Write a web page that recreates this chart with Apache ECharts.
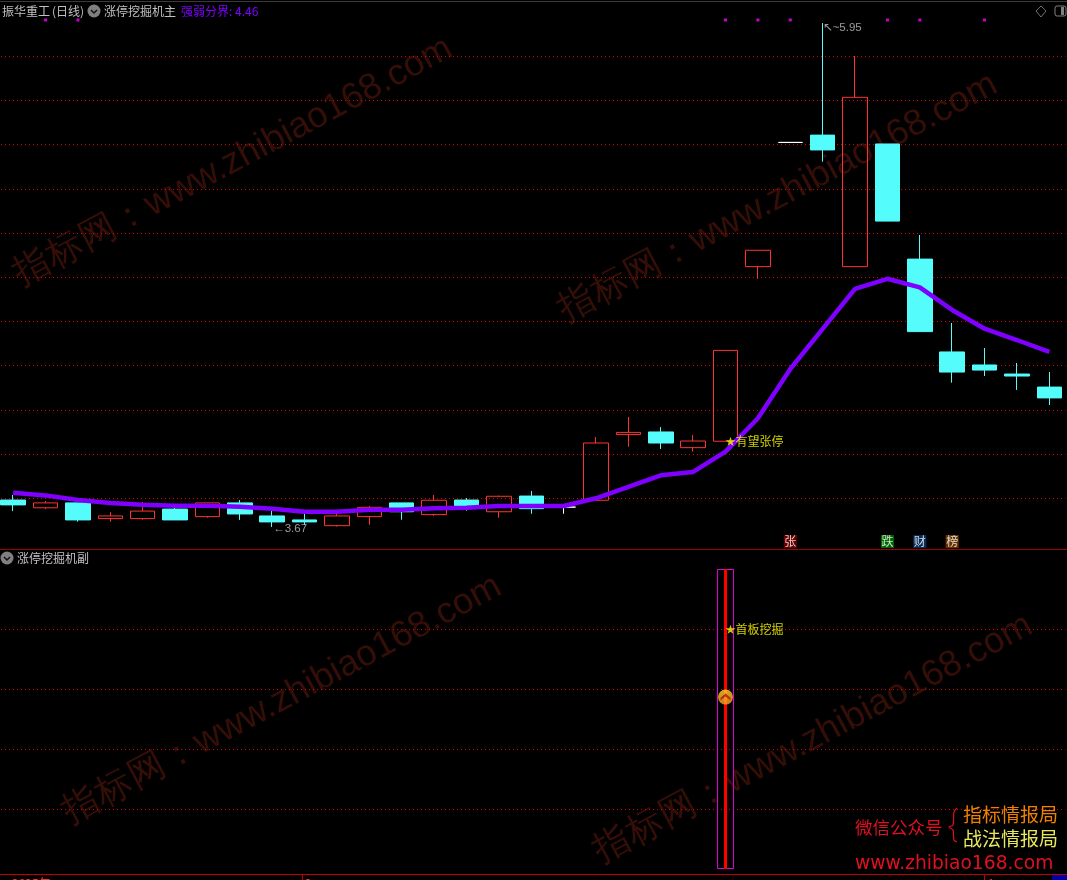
<!DOCTYPE html>
<html><head><meta charset="utf-8">
<style>html,body{margin:0;padding:0;background:#000;overflow:hidden}#c{width:1067px;height:880px}</style>
<script src="https://cdn.jsdelivr.net/npm/echarts@6/dist/echarts.min.js"></script>
</head><body><div id="c"></div>
<script>
// [open, close, low, high]
const candles = [
[3.792,3.770,3.742,3.815],[3.757,3.779,3.751,3.788],[3.779,3.702,3.694,3.779],[3.708,3.720,3.694,3.737],
[3.708,3.742,3.703,3.784],[3.751,3.702,3.702,3.760],[3.717,3.779,3.712,3.779],[3.779,3.729,3.702,3.792],
[3.720,3.693,3.670,3.744],[3.702,3.693,3.679,3.730],[3.676,3.720,3.672,3.733],[3.717,3.759,3.680,3.765],
[3.779,3.739,3.703,3.779],[3.726,3.791,3.720,3.815],[3.792,3.756,3.744,3.801],[3.739,3.809,3.712,3.812],
[3.810,3.753,3.730,3.833],[3.760,3.760,3.730,3.770],[3.791,4.050,3.791,4.077],[4.088,4.098,4.033,4.168],
[4.100,4.050,4.023,4.122],[4.029,4.059,4.011,4.086],[4.058,4.469,4.058,4.469],[4.848,4.922,4.793,4.922],
[5.410,5.410,5.410,5.410],[5.443,5.376,5.323,5.950],[4.848,5.614,4.848,5.801],[5.403,5.054,5.054,5.403],
[4.882,4.554,4.554,4.991],[4.462,4.371,4.323,4.593],[4.403,4.380,4.353,4.480],[4.362,4.353,4.290,4.412],
[4.303,4.254,4.222,4.371]];
const strengthLine = [3.825,3.813,3.792,3.779,3.771,3.766,3.766,3.762,3.753,3.739,3.739,3.748,3.748,3.755,3.757,3.765,3.765,3.765,
3.800,3.852,3.904,3.919,4.011,4.162,4.385,4.566,4.747,4.793,4.754,4.652,4.567,4.516,4.462];
const categories = candles.map((_, i) => 'D' + (i + 1));
const dotIndex = [1, 2, 22, 23, 24, 27, 28, 30];
const dotPrice = 5.964;
const tagIndex = [24, 27, 28, 29];
const tagText = ['张', '跌', '财', '榜'];
const tagColor = ['#800000', '#008000', '#0a3a70', '#804000'];
const tagPrice = 3.604;
const highPoint = [25, 5.95], lowPoint = [8, 3.67];
const mainSignal = [22, 4.058], mainSignalText = '有望张停';
const subIndex = 22, subValue = 100, subIconValue = 57.3, subStarValue = 80, subStarText = '首板挖掘';

const CN = '"Noto Sans CJK SC","Noto Sans",sans-serif';
const NUM = '"Liberation Sans",sans-serif';
const red = '#ff3232', cyan = '#54fcfc', purple = '#7f00ff';
const gridRed = '#e00000';
const subData = categories.map((_, i) => i === subIndex ? subValue : null);

const tx = (text, x, y, fill, font) => ({type:'text', x, y, silent:true, z:1,
  style:{text, fill, font, verticalAlign:'middle'}});
const cn = size => `${size}px ${CN}`;
const wm = (x, y) => ({type:'text', x, y, rotation:0.49, silent:true, z:0,
  style:{text:'指标网：www.zhibiao168.com', fill:'#350e08', font:`36.5px ${NUM}`}});
const chevIcon = (cx, cy) => [
  {type:'circle', shape:{cx, cy, r:6.5}, style:{fill:'#808080'}, silent:true, z:1},
  {type:'polyline', shape:{points:[[cx-3,cy-1],[cx,cy+2],[cx+3,cy-1]]}, style:{stroke:'#111', lineWidth:1.5, fill:null}, silent:true, z:1}];
const hr = (y, color) => ({type:'rect', shape:{x:0,y,width:1067,height:1}, style:{fill:color}, silent:true, z:1});
const vr = (x, y, h) => ({type:'rect', shape:{x,y,width:1,height:h}, style:{fill:'#c00000'}, silent:true, z:1});

const graphics = [
  wm(8,261), wm(553,297), wm(57,799), wm(588,838),
  hr(1,'#3a3a3a'), hr(549,'#a00000'), hr(874,'#c00000'),
  tx('振华重工',2,11,'#c0c0c0',cn(12)), tx('(日线)',52,11,'#c0c0c0',cn(12)),
  ...chevIcon(94,11), tx('涨停挖掘机主',104,11,'#c0c0c0',cn(12)),
  tx('强弱分界: 4.46',181,11,purple,cn(12)),
  {type:'polygon', shape:{points:[[1041,6],[1046,11],[1041,17],[1036,11]]}, style:{fill:null, stroke:'#707070', lineWidth:1}, silent:true, z:1},
  {type:'rect', shape:{x:1055,y:6,width:11,height:10,r:2}, style:{fill:null, stroke:'#808080', lineWidth:1}, silent:true, z:1},
  {type:'rect', shape:{x:1061,y:7,width:3,height:8}, style:{fill:'#808080'}, silent:true, z:1},
  ...chevIcon(7,558), tx('涨停挖掘机副',17,558,'#c0c0c0',cn(12)),
  tx('微信公众号',855,827,'#e01020',cn(17.5)),
  {type:'polyline', shape:{points:[[957,808],[954,812],[953,825],[949,827],[953,830],[954,840],[957,842]], smooth:0.3}, style:{stroke:'#e01020', lineWidth:1.2, fill:null}, silent:true, z:1},
  tx('指标情报局',963,815,'#f08000',cn(19)), tx('战法情报局',963,839,'#e8e860',cn(19)),
  tx('www.zhibiao168.com',855,864,'#e01020','18.7px "DejaVu Sans"'),
  vr(302,875,5), vr(984,875,5),
  {type:'text', x:12, y:877, silent:true, z:1, style:{text:'2025年', fill:'#ff3232', font:cn(12)}},
  {type:'text', x:305, y:877, silent:true, z:1, style:{text:'2', fill:'#ff3232', font:cn(12)}},
  {type:'text', x:988, y:877, silent:true, z:1, style:{text:'1', fill:'#ff3232', font:cn(12)}},
  {type:'rect', shape:{x:1052,y:875,width:15,height:5}, style:{fill:'#0000a8'}, silent:true, z:1}
];

const hiddenX = gi => ({type:'category', gridIndex:gi, data:categories, show:false, boundaryGap:true});
const dottedY = (gi, min, max, interval) => ({type:'value', gridIndex:gi, min, max, interval, scale:false,
  axisLine:{show:false}, axisTick:{show:false}, axisLabel:{show:false},
  splitLine:{show:true, showMinLine:false, showMaxLine:false, lineStyle:{color:gridRed, type:[1,3], width:1}}});
const starLabel = text => ({show:true, formatter:'{s|★}' + text, position:'right', distance:0, color:'#ffff00', fontSize:12, fontFamily:CN,
  rich:{s:{fontSize:10, color:'#ffff00', fontFamily:CN}}});
const noteLabel = (text, offset) => ({show:true, formatter:text, position:'right', distance:0, color:'#c0c0c0', fontSize:11.5, fontFamily:NUM, offset});

const chart = echarts.init(document.getElementById('c'), null, {renderer:'canvas'});
chart.setOption({
  backgroundColor:'#000', animation:false, tooltip:{show:false}, legend:{show:false},
  graphic:graphics,
  grid:[{left:-3, width:1068.5, top:12, height:530.47, outerBoundsMode:'none'}, {left:-3, width:1068.5, top:569, height:300, outerBoundsMode:'none'}],
  xAxis:[hiddenX(0), hiddenX(1), hiddenX(1)],
  yAxis:[dottedY(0,3.6,6.0,0.2), dottedY(1,0,100,20)],
  series:[
    {type:'candlestick', name:'K', xAxisIndex:0, yAxisIndex:0, barWidth:25, data:candles, z:3, silent:true,
     itemStyle:{color:'rgba(0,0,0,0)', color0:cyan, borderColor:red, borderColor0:cyan, borderColorDoji:'#ffffff', borderWidth:1}},
    {type:'line', name:'强弱分界', xAxisIndex:0, yAxisIndex:0, data:strengthLine, symbol:'none', smooth:false, z:4, silent:true,
     lineStyle:{color:purple, width:4.5}},
    {type:'scatter', name:'dots', xAxisIndex:0, yAxisIndex:0, symbol:'rect', symbolSize:3, z:5, silent:true, clip:false,
     itemStyle:{color:'#ff00ff'}, data:dotIndex.map(i => [i, dotPrice])},
    {type:'scatter', name:'tags', xAxisIndex:0, yAxisIndex:0, symbol:'rect', symbolSize:13, z:5, silent:true, clip:false,
     data:tagIndex.map((i, k) => ({value:[i, tagPrice], itemStyle:{color:tagColor[k]},
       label:{show:true, formatter:tagText[k], position:'inside', color:'#fff', fontSize:12, fontFamily:CN}}))},
    {type:'scatter', name:'high', xAxisIndex:0, yAxisIndex:0, symbolSize:0, z:6, silent:true, clip:false,
     data:[highPoint], label:noteLabel('↖~'+highPoint[1].toFixed(2), [0,5])},
    {type:'scatter', name:'low', xAxisIndex:0, yAxisIndex:0, symbolSize:0, z:6, silent:true, clip:false,
     data:[lowPoint], label:noteLabel('←'+lowPoint[1].toFixed(2), [1,2])},
    {type:'scatter', name:'signal', xAxisIndex:0, yAxisIndex:0, symbolSize:0, z:6, silent:true, clip:false,
     data:[mainSignal], label:starLabel(mainSignalText)},
    {type:'bar', name:'outline', xAxisIndex:1, yAxisIndex:1, barWidth:17, data:subData, z:3, silent:true,
     itemStyle:{color:'rgba(0,0,0,0)', borderColor:'#e000e0', borderWidth:1}},
    {type:'bar', name:'core', xAxisIndex:2, yAxisIndex:1, barWidth:3, data:subData, z:4, silent:true,
     itemStyle:{color:'#ff0000'}},
    {type:'scatter', name:'icon', xAxisIndex:1, yAxisIndex:1, symbolSize:15, z:5, silent:true, clip:false,
     itemStyle:{color:new echarts.graphic.LinearGradient(0,0,0,1,[{offset:0,color:'#ffd820'},{offset:1,color:'#ff9a20'}])},
     data:[[subIndex, subIconValue]]},
    {type:'scatter', name:'iconChevron', xAxisIndex:1, yAxisIndex:1, symbol:'path://M0 9 L10 0 L20 9 L20 15 L10 6 L0 15Z', symbolSize:[10,7], z:6, silent:true, clip:false,
     itemStyle:{color:'#b01818'}, data:[[subIndex, subIconValue]]},
    {type:'scatter', name:'subStar', xAxisIndex:1, yAxisIndex:1, symbolSize:0, z:6, silent:true, clip:false,
     data:[[subIndex, subStarValue]], label:starLabel(subStarText)}
  ]
});
</script></body></html>
